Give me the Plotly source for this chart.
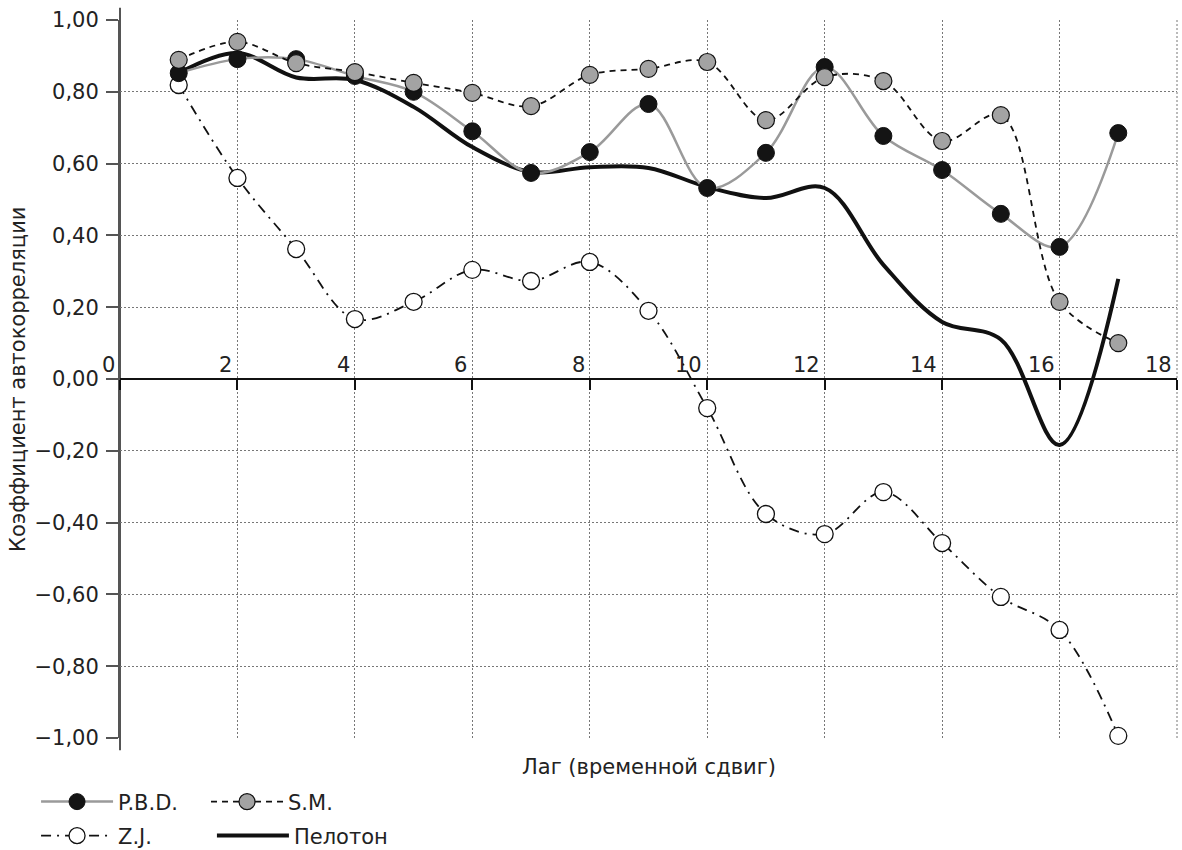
import plotly.graph_objects as go

lags = list(range(1, 18))
pbd = [0.852, 0.891, 0.891, 0.844, 0.80, 0.69, 0.574, 0.632, 0.766, 0.532, 0.63, 0.869, 0.677, 0.582, 0.46, 0.368, 0.685]
sm = [0.889, 0.939, 0.88, 0.855, 0.825, 0.797, 0.76, 0.847, 0.864, 0.883, 0.721, 0.841, 0.83, 0.663, 0.735, 0.215, 0.10]
zj = [0.819, 0.56, 0.362, 0.167, 0.215, 0.304, 0.273, 0.326, 0.19, -0.081, -0.376, -0.432, -0.315, -0.457, -0.607, -0.699, -0.994]
peloton = [0.852, 0.908, 0.84, 0.833, 0.758, 0.646, 0.577, 0.59, 0.588, 0.535, 0.504, 0.532, 0.318, 0.159, 0.11, -0.184, 0.279]
xticks = list(range(0, 19, 2))

FONT = "DejaVu Sans, Liberation Sans, sans-serif"
fs = 21

fig = go.Figure()
fig.add_trace(go.Scatter(x=lags, y=zj, name="Z.J.", mode="lines+markers", cliponaxis=False,
                         line=dict(color="#111", width=1.8, dash="10px,6px,2px,6px", shape="spline", smoothing=1),
                         marker=dict(size=17, color="white", line=dict(color="#111", width=1.3)),
                         legend="legend3"))
fig.add_trace(go.Scatter(x=lags, y=peloton, name="Пелотон", mode="lines",
                         line=dict(color="#111", width=4, shape="spline", smoothing=1),
                         legend="legend4"))
fig.add_trace(go.Scatter(x=lags, y=pbd, name="P.B.D.", mode="lines+markers",
                         line=dict(color="#9a9a9a", width=2.5, shape="spline", smoothing=1),
                         marker=dict(size=17, color="#141414", line=dict(color="#111", width=1)),
                         legend="legend"))
fig.add_trace(go.Scatter(x=lags, y=sm, name="S.M.", mode="lines+markers",
                         line=dict(color="#111", width=1.8, dash="6px,5px", shape="spline", smoothing=1),
                         marker=dict(size=17, color="#a3a3a3", line=dict(color="#111", width=1.2)),
                         legend="legend2"))

grid = dict(showgrid=True, gridcolor="#777", griddash="2px,2px", gridwidth=1)
legfont = dict(family=FONT, size=fs, color="#222")


def leg(x, y):
    return dict(orientation="h", xref="container", yref="container", x=x, y=y,
                xanchor="left", yanchor="middle", itemwidth=72,
                font=legfont, bgcolor="rgba(0,0,0,0)")


fig.update_layout(
    width=1182, height=850,
    margin=dict(l=120, r=5, t=20, b=112),
    paper_bgcolor="white", plot_bgcolor="white",
    font=dict(family=FONT, size=fs, color="#222"),
    separators=", ",
    xaxis=dict(range=[0, 18], dtick=2, tick0=0, anchor="free", position=0.5,
               showline=True, linecolor="#111", linewidth=1.5,
               ticks="outside", ticklen=10, tickwidth=1.5, tickcolor="#111",
               showticklabels=False, zeroline=False, **grid),
    yaxis=dict(range=[-1, 1], dtick=0.2, tick0=-1, tickformat=".2f",
               showline=True, linecolor="#555", linewidth=2,
               ticks="outside", ticklen=12, tickwidth=2, tickcolor="#555",
               ticklabelstandoff=3, zeroline=False,
               tickfont=dict(family=FONT, size=fs, color="#222"), **grid),
    legend=leg(0.0305, 0.0565),
    legend2=leg(0.1743, 0.0565),
    legend3=leg(0.0305, 0.0165),
    legend4=leg(0.1793, 0.0165),
    showlegend=True,
)

# x tick labels placed above the axis line, right-aligned to each gridline
for t in xticks:
    fig.add_annotation(x=t, y=0, xref="x", yref="y", text=str(t), showarrow=False,
                       xanchor="right", yanchor="bottom", xshift=-3, yshift=0,
                       font=dict(family=FONT, size=fs, color="#222"))

fig.add_annotation(x=0.5, y=-0.040, xref="paper", yref="paper", text="Лаг (временной сдвиг)",
                   showarrow=False, xanchor="center", yanchor="middle",
                   font=dict(family=FONT, size=fs, color="#222"))
fig.add_annotation(x=-0.0965, y=0.5, xref="paper", yref="paper", text="Коэффициент автокорреляции",
                   showarrow=False, textangle=-90, xanchor="center", yanchor="middle",
                   font=dict(family=FONT, size=fs, color="#222"))

# slight extension of the y-axis line beyond the range
fig.add_shape(type="line", xref="paper", yref="paper", x0=0, x1=0, y0=-0.017, y1=1.017,
              line=dict(color="#555", width=2), layer="below")
# dashed right border at the last x gridline
fig.add_shape(type="line", xref="paper", yref="paper", x0=1, x1=1, y0=0, y1=1,
              line=dict(color="#777", width=1, dash="2px,2px"), layer="below")

fig.write_html("out.html", config={"displayModeBar": False},
               post_script="document.body.style.margin='0';")
